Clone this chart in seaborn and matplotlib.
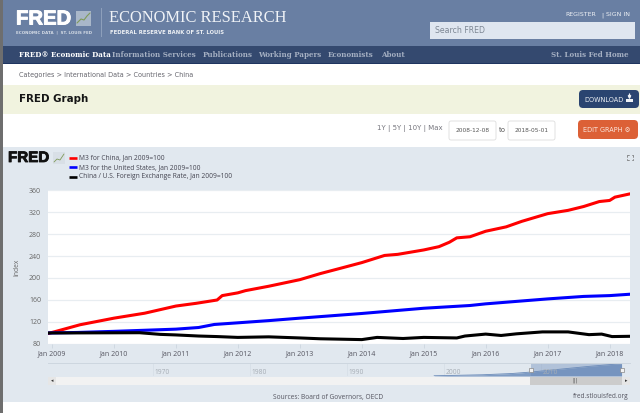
import matplotlib
matplotlib.use("Agg")
import matplotlib.pyplot as plt
from matplotlib.patches import Rectangle, FancyBboxPatch
import matplotlib.patheffects as pe
import matplotlib.dates as mdates
import pandas as pd
import seaborn as sns

W, H = 640, 413

china_dates = ["2008-12-08", "2009-03-01", "2009-06-15", "2010-01-01", "2010-07-01", "2011-01-01", "2011-05-01",
               "2011-09-01", "2011-10-01", "2012-01-01", "2012-02-15", "2012-07-01", "2013-01-01", "2013-05-01",
               "2013-09-01", "2014-01-01", "2014-05-15", "2014-08-01", "2015-01-01", "2015-04-01", "2015-06-01",
               "2015-07-15", "2015-10-01", "2016-01-01", "2016-05-01", "2016-08-01", "2017-01-01", "2017-05-01",
               "2017-08-01", "2017-11-01", "2018-01-01", "2018-02-01", "2018-05-01"]
china = [99, 106, 115, 127, 136, 149, 154, 160, 168, 173, 177, 185, 197, 208, 218, 228, 241, 243, 251, 257, 265,
         273, 275, 285, 293, 303, 317, 323, 330, 339, 341, 347, 353]

us_dates = ["2008-12-08", "2009-06-01", "2010-01-01", "2011-01-01", "2011-05-15", "2011-08-15", "2012-01-01",
            "2012-07-01", "2013-01-01", "2014-01-01", "2015-01-01", "2015-10-01", "2016-01-01", "2017-01-01",
            "2017-08-01", "2018-01-01", "2018-05-01"]
us = [100, 101, 103, 107, 110, 115.5, 118.5, 122.5, 127, 135.5, 145, 150, 153, 162, 166.5, 168, 170.5]

fx_dates = ["2008-12-08", "2010-06-01", "2010-10-01", "2011-01-01", "2011-05-15", "2011-09-01", "2012-01-01",
            "2012-07-01", "2013-01-01", "2013-05-01", "2014-01-01", "2014-04-01", "2014-09-01", "2015-01-01",
            "2015-07-15", "2015-09-01", "2016-01-01", "2016-04-01", "2016-07-01", "2016-12-01", "2017-05-01",
            "2017-09-01", "2017-11-15", "2018-01-15", "2018-05-01"]
fx = [100, 100.5, 97.5, 96.5, 94.5, 93.5, 92, 93, 91, 89.5, 88, 92, 90, 92, 91, 94.5, 98, 95.5, 98.5, 102, 102,
      97, 98, 93.5, 94]

legend_labels = ["M3 for China, Jan 2009=100", "M3 for the United States, Jan 2009=100",
                 "China / U.S. Foreign Exchange Rate, Jan 2009=100"]
line_colors = ["#ff0000", "#0000ff", "#000000"]
y_ticks = [80, 120, 160, 200, 240, 280, 320, 360]
tick_years = list(range(2009, 2019))

nav_years = [1999, 2001, 2004, 2007, 2009, 2012, 2015, 2018.33]
nav_values = [2, 5, 10, 20, 32, 55, 78, 100]
nav_ticks = [1970, 1980, 1990, 2000, 2010]

frames = []
for label, ds, vals in zip(legend_labels, [china_dates, us_dates, fx_dates], [china, us, fx]):
    frames.append(pd.DataFrame({"date": pd.to_datetime(ds), "value": vals, "series": label}))
df = pd.concat(frames)

sns.set_theme(style="white")
plt.rcParams["font.family"] = ["Open Sans", "DejaVu Sans"]

fig = plt.figure(figsize=(W / 100, H / 100), dpi=100, facecolor="white")

# whole page chrome, in pixel coordinates
page = fig.add_axes([0, 0, 1, 1])
page.set_xlim(0, W)
page.set_ylim(H, 0)
page.axis("off")


def box(x, y, w, h, color):
    page.add_patch(Rectangle((x, y), w, h, facecolor=color, edgecolor="none", lw=0))


def pill(x, y, w, h, color, edge="none", r=3):
    page.add_patch(FancyBboxPatch((x + r, y + r), w - 2 * r, h - 2 * r, boxstyle=f"round,pad={r}",
                                  facecolor=color, edgecolor=edge, lw=0.6))


box(3, 0, 637, 46, "#697fa3")
box(3, 46, 637, 18, "#34496f")
box(3, 63, 637, 1, "#1f3560")
box(3, 85, 637, 29, "#f1f3df")
box(3, 147, 637, 255, "#e1e8ef")
box(0, 0, 3, H, "#6e6e6e")

logo = page.text(16, 19, "FRED", color="white", fontsize=14.6, fontweight="bold", family="Liberation Sans", va="center")
logo.set_path_effects([pe.withStroke(linewidth=0.7, foreground="white")])
box(76, 11, 15, 15, "#a9b7c9")
page.plot([77, 81, 84, 87, 90], [23, 19, 20, 16, 13], color="#7f9a5a", lw=0.8)
page.text(16, 32.5, "ECONOMIC DATA  |  ST. LOUIS FED", color="#d5dce6", fontsize=2.9, fontweight="bold", va="center",
          family="DejaVu Sans")
box(100.5, 8, 1, 29, "#8d9fbb")
page.text(109, 18, "ECONOMIC RESEARCH", color="#f0f3f7", fontsize=11.9, family="Liberation Serif", va="center")
page.text(110, 32, "FEDERAL RESERVE BANK OF ST. LOUIS", color="#eef1f5", fontsize=3.8, fontweight="bold", va="center",
          family="DejaVu Sans")
page.text(565, 15, "REGISTER", color="#eef1f5", fontsize=4.5, va="center", family="DejaVu Sans")
page.text(601, 15, "|", color="#eef1f5", fontsize=4.5, va="center", family="DejaVu Sans")
page.text(606, 15, "SIGN IN", color="#eef1f5", fontsize=4.5, va="center", family="DejaVu Sans")
box(429.5, 21.5, 205, 17, "#dfe6f0")
page.text(435, 30.5, "Search FRED", color="#7d8794", fontsize=5.6, va="center", family="DejaVu Sans")

nav_items = [("Information Services", 112), ("Publications", 203), ("Working Papers", 258), ("Economists", 328),
             ("About", 381), ("St. Louis Fed Home", 551)]
page.text(19, 55, "FRED\u00ae Economic Data", color="white", fontsize=5.1, fontweight="bold", va="center",
          family="DejaVu Serif")
for name, x in nav_items:
    page.text(x, 55, name, color="#a4afc2", fontsize=5.1, fontweight="bold", va="center", family="DejaVu Serif")

page.text(19, 74.5, "Categories > International Data > Countries > China", color="#66666e", fontsize=4.7, va="center",
          family="DejaVu Sans")
page.text(19, 99, "FRED Graph", color="#151515", fontsize=7.4, fontweight="bold", va="center", family="DejaVu Sans")

pill(579, 90, 60, 18, "#2a4470", r=4)
page.text(584, 99.5, "DOWNLOAD", color="#eef1f5", fontsize=4.7, va="center", family="DejaVu Sans")
box(626, 98.5, 7, 3, "#eef1f5")
page.annotate("", xy=(629.5, 99.5), xytext=(629.5, 94), arrowprops=dict(arrowstyle="-|>", color="#eef1f5", lw=1,
                                                                         mutation_scale=4, shrinkA=0, shrinkB=0))
pill(578, 120, 60, 19, "#dc6036", r=4)
page.text(583, 129.5, "EDIT GRAPH \u2699", color="#fbe8df", fontsize=4.7, va="center", family="DejaVu Sans")

page.text(377, 128.5, "1Y | 5Y | 10Y | Max", color="#77777f", fontsize=5, va="center", family="DejaVu Sans")
pill(449, 121, 47, 19, "white", edge="#dddddd", r=2)
pill(508, 121, 47, 19, "white", edge="#dddddd", r=2)
page.text(456, 130.5, "2008-12-08", color="#555555", fontsize=4.2, va="center", family="DejaVu Sans")
page.text(514.5, 130.5, "2018-05-01", color="#555555", fontsize=4.2, va="center", family="DejaVu Sans")
page.text(499, 130, "to", color="#555555", fontsize=5, va="center", family="DejaVu Sans")

# graph header
logo2 = page.text(8, 158, "FRED", color="#111111", fontsize=10.9, fontweight="bold", family="Liberation Sans",
                  va="center")
logo2.set_path_effects([pe.withStroke(linewidth=0.6, foreground="#111111")])
box(53, 152, 12, 12, "#d8dfe6")
page.plot([54, 57, 60, 64], [162, 159, 160, 154], color="#7f9a5a", lw=0.6)
for i, (lab, col) in enumerate(zip(legend_labels, line_colors)):
    y = 158 + i * 9.3
    page.plot([68.5, 76.5], [y, y], color=col, lw=1.9, solid_capstyle="butt")
    page.text(79, y, lab, color="#444450", fontsize=4.75, va="center")
# fullscreen corners
for cx, sx in [(627, 1), (633, -1)]:
    for cy, sy in [(155, 1), (160, -1)]:
        page.plot([cx + 1.5 * sx, cx, cx], [cy, cy, cy + 1.5 * sy], color="#666666", lw=0.5)

# main plot
ax = fig.add_axes([48 / W, 1 - 344 / H, 582 / W, 154 / H], facecolor="white")
sns.lineplot(data=df, x="date", y="value", hue="series", palette=line_colors, hue_order=legend_labels,
             linewidth=2.2, legend=False, ax=ax)
ax.set_xlim(pd.Timestamp("2008-12-08"), pd.Timestamp("2018-05-01"))
ax.set_ylim(80, 360)
ax.set_yticks(y_ticks)
ax.set_xticks([pd.Timestamp(f"{y}-01-01") for y in tick_years])
ax.xaxis.set_major_formatter(mdates.DateFormatter("Jan %Y"))
ax.grid(axis="y", color="#e8edf1", lw=0.9)
ax.set_axisbelow(True)
sns.despine(ax=ax, left=True, right=True, top=True, bottom=True)
ax.tick_params(axis="y", length=0, pad=5, labelsize=5.0, labelcolor="#666666")
ax.tick_params(axis="x", length=3, width=0.5, color="#c8d2dc", pad=1.5, labelsize=5.0, labelcolor="#555560", bottom=True)
ax.set_xlabel("")
ax.set_ylabel("Index", fontsize=4.8, color="#666666", labelpad=6)

# range navigator below the plot
nav = fig.add_axes([48 / W, 1 - 376 / H, 582 / W, 13 / H], facecolor="none")
nav.fill_between(nav_years, nav_values, color="#7f9cc4", lw=0)
nav.plot(nav_years, nav_values, color="#6a8ab8", lw=0.6)
nav.axvspan(2009, 2018.33, color="#6a8ab8", alpha=0.4, lw=0)
nav.set_xlim(1959.2, 2019.2)
nav.set_ylim(0, 105)
nav.set_yticks([])
nav.set_xticks(nav_ticks)
nav.tick_params(axis="x", length=0, labelbottom=False)
nav.grid(axis="x", color="#d5dde5", lw=0.5)
for side in ["left", "right", "bottom"]:
    nav.spines[side].set_visible(False)
nav.spines["top"].set_color("#cdd6df")
nav.spines["top"].set_linewidth(0.7)
for yr in nav_ticks:
    nav.text(yr + 0.2, 32, str(yr), color="#a6adb5", fontsize=4.8, va="center")
for yr in [2009, 2018.33]:
    nav.plot([yr], [50], marker="s", ms=3.4, mfc="#f2f2f2", mec="#888888", mew=0.5, clip_on=False)

# scrollbar
box(48, 376.5, 582, 8.5, "#f2f2f2")
box(530, 376.5, 92, 8.5, "#cccccc")
box(48, 376.5, 8, 8.5, "#e6e6e6")
box(622, 376.5, 8, 8.5, "#e6e6e6")
page.text(52, 381, "\u25c2", color="#333333", fontsize=3.5, ha="center", va="center", family="DejaVu Sans")
page.text(626, 381, "\u25b8", color="#333333", fontsize=3.5, ha="center", va="center", family="DejaVu Sans")
page.text(575, 380.5, "|||", color="#555555", fontsize=3.5, ha="center", va="center", family="DejaVu Sans")

page.text(273, 397, "Sources: Board of Governors, OECD", color="#555560", fontsize=4.75, va="center")
page.text(628, 397, "fred.stlouisfed.org", color="#555560", fontsize=4.7, va="center", ha="right")

fig.savefig("out.png", dpi=100)
